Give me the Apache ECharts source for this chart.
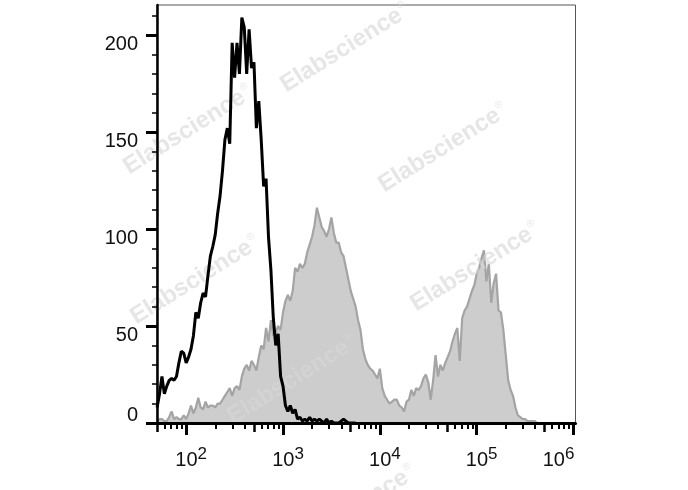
<!DOCTYPE html>
<html><head><meta charset="utf-8">
<script src="https://cdn.jsdelivr.net/npm/echarts@6/dist/echarts.min.js"></script>
<style>html,body{margin:0;padding:0;background:#fff}#c{width:688px;height:490px}</style>
</head><body><div id="c"></div>
<script>
// histogram bins in decades (log10 of fluorescence)
const binStart = 1.70;
const binWidth = 0.025;

// unstained control (black line), counts per bin
const unstained = [
  8,15,24,15,19,22,23,22,24,31,
  37,36,31,34,38,45,57,54,62,67,
  65,76,86,91,97,108,117,130,146,152,
  144,196,178,196,180,209,204,180,203,183,
  186,152,166,146,122,126,96,79,54,40,
  46,24,19,9,6,9,5,7,2,3,
  1,2,1,3,1,2,1,2,1,0,
  2,0,1,0,0,0,1,2,1,0,
  0,0,0
];

// stained sample (grey filled), counts per bin
const stained = [
  1,2,2,1,1,3,6,2,3,2,
  2,4,2,5,9,5,8,13,8,7,
  11,8,9,9,8,10,10,12,14,16,
  18,14,18,19,17,24,28,30,27,32,
  30,27,34,40,38,49,42,53,45,47,
  50,48,57,63,66,63,68,80,78,82,
  80,82,88,92,96,102,111,106,101,99,
  96,100,106,98,93,93,88,86,80,74,
  68,64,60,53,48,38,33,30,28,27,
  25,23,28,18,14,12,10,11,12,12,
  9,8,6,11,12,17,14,18,17,19,
  23,25,21,12,22,35,24,30,27,31,
  34,37,42,46,49,32,54,58,60,64,
  68,71,77,80,85,89,73,82,62,72,
  77,58,57,48,35,22,17,14,8,4,
  3,2,2,1,1,1,1,0,0,0,0
];

const yMajorTicks = [0, 50, 100, 150, 200];
const yMinorTicks = [10,20,30,40,60,70,80,90,110,120,130,140,160,170,180,190,210];
const xDecadeLabels = [2, 3, 4, 5, 6];
const xMidTicks = [50, 500, 5000, 50000, 500000];
const xMinorTicks = [60,70,80,90,
  200,300,400,600,700,800,900,
  2000,3000,4000,6000,7000,8000,9000,
  20000,30000,40000,60000,70000,80000,90000,
  200000,300000,400000,600000,700000,800000,900000];
const watermarkText = 'Elabscience';

const FF = "'Liberation Sans', Arial, sans-serif";
const xMin = Math.log10(50), xMax = 6.02, yMin = 0, yMax = 215.5;
const wmPos = [[345,48],[188,130],[443,148],[195,280],[475,267],[292,380],[351,510]];

const chart = echarts.init(document.getElementById('c'), null, {renderer: 'canvas'});

function xAxisBase(extra) {
  return Object.assign({
    type: 'value', gridIndex: 0, position: 'bottom', min: xMin, max: xMax, z: 4,
    splitLine: {show: false}
  }, extra);
}
function yAxisBase(extra) {
  return Object.assign({
    type: 'value', gridIndex: 0, position: 'left', min: yMin, max: yMax, z: 4,
    splitLine: {show: false}
  }, extra);
}

const option = {
  animation: false,
  backgroundColor: '#fff',
  grid: {left: 157, top: 5, right: 112.5, bottom: 67, show: true,
    borderColor: '#555', borderWidth: 1, backgroundColor: 'transparent'},
  xAxis: [
    xAxisBase({
      axisLine: {show: true, lineStyle: {color: '#000', width: 3}},
      axisTick: {show: true, customValues: xDecadeLabels, length: 12, lineStyle: {color: '#000', width: 3}},
      axisLabel: {show: true, customValues: xDecadeLabels, margin: 27,
        formatter: v => {
          const e = Math.round(v);
          return e === 6 ? '{bl|10}{sl|' + e + '}' : '{b|10}{s|' + e + '}';
        },
        rich: {
          b: {fontFamily: FF, fontSize: 20, lineHeight: 21, color: '#111', padding: [0,0,0,10]},
          s: {fontFamily: FF, fontSize: 17, lineHeight: 21, color: '#111', padding: [0,0,12,0]},
          bl: {fontFamily: FF, fontSize: 20, lineHeight: 21, color: '#111'},
          sl: {fontFamily: FF, fontSize: 17, lineHeight: 21, color: '#111', padding: [0,30,12,0]}
        }
      }
    }),
    xAxisBase({
      axisLine: {show: false},
      axisTick: {show: true, customValues: xMidTicks.map(v => Math.log10(v)), length: 9, lineStyle: {color: '#000', width: 2.5}},
      axisLabel: {show: false}
    }),
    xAxisBase({
      axisLine: {show: false},
      axisTick: {show: true, customValues: xMinorTicks.map(v => Math.log10(v)), length: 6, lineStyle: {color: '#000', width: 2}},
      axisLabel: {show: false}
    })
  ],
  yAxis: [
    yAxisBase({
      axisLine: {show: true, lineStyle: {color: '#000', width: 2.5}},
      axisTick: {show: true, customValues: yMajorTicks, length: 11, lineStyle: {color: '#000', width: 3}},
      axisLabel: {show: true, customValues: yMajorTicks, margin: 19,
        formatter: v => v === 0 ? '{z|0}' : '{n|' + v + '}',
        rich: {
          n: {fontFamily: FF, fontSize: 20, lineHeight: 20, color: '#111', padding: [18,0,0,0]},
          z: {fontFamily: FF, fontSize: 20, lineHeight: 20, color: '#111', padding: [0,0,16,0]}
        }
      }
    }),
    yAxisBase({
      axisLine: {show: false},
      axisTick: {show: true, customValues: yMinorTicks, length: 5, lineStyle: {color: '#000', width: 1.5}},
      axisLabel: {show: false}
    })
  ],
  graphic: wmPos.map(p => ({
    type: 'text', x: p[0], y: p[1], rotation: 32 * Math.PI / 180, z: 3, silent: true,
    style: {
      text: '{a|' + watermarkText + '}{r|®}',
      align: 'center', verticalAlign: 'middle',
      rich: {
        a: {fontFamily: FF, fontWeight: 'bold', fontSize: 24, fill: 'rgba(214,214,214,0.62)', lineHeight: 26},
        r: {fontFamily: FF, fontSize: 10, fill: 'rgba(214,214,214,0.62)', lineHeight: 26, padding: [0,0,14,1]}
      }
    }
  })),
  series: [
    {
      name: 'stained', type: 'line', xAxisIndex: 0, yAxisIndex: 0, z: 2,
      data: stained.map((v, i) => [binStart + i * binWidth, v]),
      showSymbol: false, symbol: 'none', smooth: false,
      lineStyle: {color: '#a4a4a4', width: 2.2},
      areaStyle: {color: '#cdcdcd', opacity: 1}
    },
    {
      name: 'unstained', type: 'line', xAxisIndex: 0, yAxisIndex: 0, z: 5,
      data: unstained.map((v, i) => [binStart + i * binWidth, v]),
      showSymbol: false, symbol: 'none', smooth: false,
      lineStyle: {color: '#000', width: 3}
    }
  ]
};
chart.setOption(option);
</script></body></html>
